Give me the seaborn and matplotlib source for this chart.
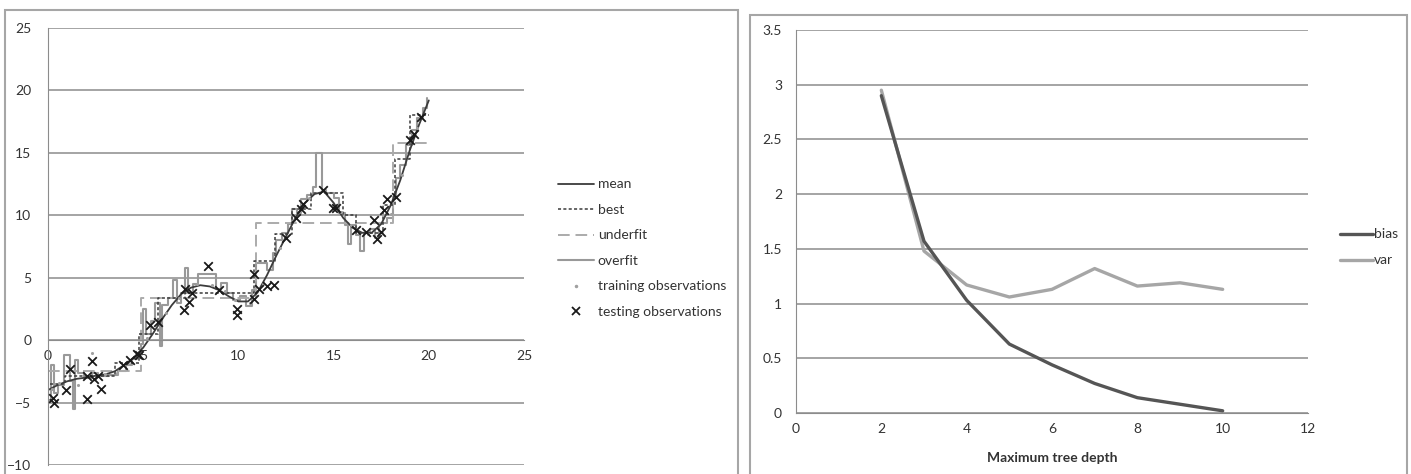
import matplotlib
matplotlib.use("Agg")
import matplotlib.pyplot as plt
from matplotlib.patches import Rectangle
from matplotlib.lines import Line2D
import seaborn as sns

sns.set_style("white")
plt.rcParams["font.family"] = ["Lato", "DejaVu Sans"]

# ---- left panel data ----
mean_x = [0, 0.5, 1, 1.5, 2, 2.5, 3, 3.5, 4, 4.5, 5, 5.5, 6, 6.5, 7, 7.5, 8, 8.5, 9, 9.5,
          10, 10.5, 11, 11.5, 12, 12.5, 13, 13.5, 14, 14.5, 15, 15.5, 16, 16.5, 17, 17.5,
          18, 18.5, 19, 19.5, 20]
mean_y = [-4.0, -3.6, -3.3, -3.1, -3.0, -2.85, -2.75, -2.5, -2.0, -1.4, -0.6, 0.5, 1.7, 2.8,
          3.7, 4.2, 4.4, 4.3, 4.0, 3.5, 3.1, 3.1, 3.8, 5.2, 6.8, 8.3, 9.8, 11.0, 11.7, 11.9,
          11.0, 9.8, 9.0, 8.6, 8.6, 9.3, 10.8, 12.8, 15.2, 17.3, 19.2]

best_x = [0.1, 0.9, 3.5, 4.8, 5.8, 7.2, 10.8, 11.9, 12.8, 13.8, 15.5, 16.2, 17.6, 18.2, 19.0, 20.0]
best_y = [-3.5, -2.9, -1.8, 0.5, 3.4, 3.8, 6.3, 8.5, 10.5, 11.8, 10.0, 8.6, 10.8, 14.5, 18.0, 18.0]

under_x = [0.0, 4.9, 10.9, 18.1, 20.0]
under_y = [-2.5, 3.4, 9.4, 15.8, 15.8]

over_x = [0.0, 0.15, 0.3, 0.55, 0.85, 1.15, 1.3, 1.4, 1.55, 1.9, 2.3, 2.6, 3.2, 3.7, 4.1,
          4.4, 4.7, 4.9, 5.0, 5.15, 5.4, 5.6, 5.9, 6.0, 6.3, 6.55, 6.75, 7.0, 7.2, 7.35,
          7.6, 7.9, 8.8, 9.1, 9.4, 9.7, 10.1, 10.4, 10.7, 10.9, 11.5, 11.8, 12.0, 12.3,
          12.6, 12.8, 13.1, 13.3, 13.6, 13.9, 14.1, 14.4, 14.6, 15.0, 15.3, 15.6, 15.75,
          15.9, 16.2, 16.4, 16.6, 16.9, 17.2, 17.4, 17.8, 18.1, 18.3, 18.5, 18.8, 19.1,
          19.4, 19.7, 19.9]
over_y = [-4.8, -2.0, -4.2, -3.6, -1.2, -3.3, -5.5, -1.6, -2.6, -3.0, -2.6, -2.9, -2.8,
          -2.5, -2.0, -1.5, -1.1, -0.3, 2.5, 0.5, 1.5, 3.0, -0.5, 2.8, 3.4, 4.8, 3.0, 3.8,
          5.8, 3.8, 4.5, 5.3, 4.1, 4.6, 3.8, 3.2, 3.5, 2.7, 4.0, 6.2, 5.6, 7.0, 8.0, 8.6,
          9.3, 10.5, 10.2, 11.3, 11.6, 12.3, 15.0, 12.0, 11.8, 11.4, 10.2, 9.2, 7.7, 9.2,
          8.4, 7.1, 8.6, 8.9, 8.2, 9.4, 9.8, 11.5, 13.0, 14.0, 15.6, 16.8, 17.8, 18.6, 19.4]

train_x = [0.2, 0.6, 1.6, 2.3, 3.0, 3.6, 4.2, 5.2, 6.2, 6.9, 7.8, 8.6, 9.3, 9.8, 10.6,
           11.3, 12.2, 12.9, 13.7, 15.4, 15.9, 16.8, 18.0, 18.6, 19.4]
train_y = [-3.9, -3.4, -3.6, -1.0, -2.7, -2.6, -1.9, 0.2, 2.2, 3.4, 4.5, 4.4, 3.9, 3.2, 3.0,
           4.5, 7.4, 9.6, 11.4, 10.3, 9.2, 8.5, 10.1, 13.2, 17.0]

test_x = [0.26, 0.3, 0.97, 1.15, 2.06, 2.05, 2.3, 2.42, 2.6, 2.76, 3.95, 4.3, 4.7, 4.8,
          5.35, 5.8, 7.15, 7.4, 7.55, 7.2, 8.4, 9.0, 9.95, 9.95, 10.8, 10.8, 11.1, 11.5,
          11.85, 12.5, 13.0, 13.3, 13.4, 14.45, 14.95, 15.1, 16.2, 16.7, 17.1, 17.3, 17.5,
          17.65, 17.8, 18.3, 19.0, 19.2, 19.6]
test_y = [-4.6, -5.0, -4.0, -2.3, -4.7, -2.9, -1.7, -3.1, -2.9, -3.9, -2.0, -1.6, -1.1,
          -1.2, 1.2, 1.45, 2.4, 3.05, 3.8, 4.1, 5.9, 4.0, 2.5, 2.0, 5.3, 3.3, 4.1, 4.3, 4.4,
          8.2, 9.8, 10.5, 10.9, 12.0, 10.6, 10.6, 8.8, 8.7, 9.6, 8.1, 8.7, 10.4, 11.3, 11.5,
          16.0, 16.5, 17.9]

# ---- right panel data ----
depth = [2, 3, 4, 5, 6, 7, 8, 9, 10]
bias = [2.9, 1.57, 1.03, 0.63, 0.44, 0.27, 0.14, 0.08, 0.02]
var = [2.95, 1.48, 1.17, 1.06, 1.13, 1.32, 1.16, 1.19, 1.13]

W, H = 1411, 474
fig = plt.figure(figsize=(W / 100, H / 100), dpi=100)
fig.patch.set_facecolor("white")

grid_c = "#8c8c8c"
fs = 10

# panel frames
fig.patches.append(Rectangle((5 / W, -0.02), 733 / W, 1.02 - 10 / H, transform=fig.transFigure,
                             fill=False, edgecolor="#a6a6a6", lw=1.5))
fig.patches.append(Rectangle((750 / W, -0.02), 657 / W, 1.02 - 15 / H, transform=fig.transFigure,
                             fill=False, edgecolor="#a6a6a6", lw=1.5))

# ---------------- left chart ----------------
ax1 = fig.add_axes([48 / W, 1 - 465 / H, 476 / W, 437 / H])
ax1.set_xlim(0, 25)
ax1.set_ylim(-10, 25)
ax1.set_yticks(range(-10, 26, 5))
ax1.set_xticks(range(0, 26, 5))
ax1.grid(axis="y", color=grid_c, lw=1.1)
ax1.set_axisbelow(True)
for s in ["top", "right"]:
    ax1.spines[s].set_visible(False)
ax1.spines["left"].set_color(grid_c)
ax1.spines["bottom"].set_color(grid_c)
ax1.spines["bottom"].set_position(("data", 0))
ax1.tick_params(axis="both", colors=grid_c, labelcolor="#333333", labelsize=fs,
                length=4, width=1, direction="out")
ax1.tick_params(axis="y", pad=8)
ax1.tick_params(axis="x", pad=3)

sns.lineplot(x=over_x, y=over_y, ax=ax1, color="#999999", lw=1.5, drawstyle="steps-post",
             estimator=None, sort=False)
sns.lineplot(x=under_x, y=under_y, ax=ax1, color="#ababab", lw=1.4, drawstyle="steps-post",
             estimator=None, sort=False, dashes=False, linestyle=(0, (6, 3)))
sns.lineplot(x=best_x, y=best_y, ax=ax1, color="#3a3a3a", lw=1.1, drawstyle="steps-post",
             estimator=None, sort=False, linestyle=(0, (2, 1.5)))
sns.lineplot(x=mean_x, y=mean_y, ax=ax1, color="#3c3c3c", lw=1.3, estimator=None, sort=False)
sns.scatterplot(x=train_x, y=train_y, ax=ax1, color="#a0a0a0", s=5, linewidth=0, zorder=4)
sns.scatterplot(x=test_x, y=test_y, ax=ax1, color="#1a1a1a", marker="x", s=38, linewidth=1.3,
                zorder=5)
ax1.set_xlabel("")
ax1.set_ylabel("")

handles1 = [
    Line2D([], [], color="#3c3c3c", lw=1.3),
    Line2D([], [], color="#3a3a3a", lw=1.1, linestyle=(0, (2, 1.5))),
    Line2D([], [], color="#ababab", lw=1.4, linestyle=(0, (6, 3))),
    Line2D([], [], color="#999999", lw=1.5),
    Line2D([], [], color="#a0a0a0", marker=".", markersize=3, lw=0),
    Line2D([], [], color="#1a1a1a", marker="x", markersize=6, mew=1.3, lw=0),
]
labels1 = ["mean", "best", "underfit", "overfit", "training observations", "testing observations"]
fig.legend(handles1, labels1, loc="upper left", bbox_to_anchor=(545 / W, 1 - 166 / H),
           frameon=False, fontsize=fs, handlelength=2.6, handletextpad=0.3,
           labelspacing=0.97, labelcolor="#333333")

# ---------------- right chart ----------------
ax2 = fig.add_axes([796 / W, 1 - 413 / H, 512 / W, 383 / H])
sns.lineplot(x=depth, y=var, ax=ax2, color="#a6a6a6", lw=2.4, label="var")
sns.lineplot(x=depth, y=bias, ax=ax2, color="#555555", lw=2.4, label="bias")
ax2.set_xlim(0, 12)
ax2.set_ylim(0, 3.5)
ax2.set_xticks(range(0, 13, 2))
ax2.set_yticks([0, 0.5, 1, 1.5, 2, 2.5, 3, 3.5])
ax2.set_yticklabels(["0", "0.5", "1", "1.5", "2", "2.5", "3", "3.5"])
ax2.grid(axis="y", color=grid_c, lw=1.1)
ax2.set_axisbelow(True)
for s in ["top", "right"]:
    ax2.spines[s].set_visible(False)
ax2.spines["left"].set_color(grid_c)
ax2.spines["bottom"].set_color(grid_c)
ax2.tick_params(axis="both", colors=grid_c, labelcolor="#333333", labelsize=fs,
                length=4, width=1, direction="out")
ax2.tick_params(axis="y", pad=6)
ax2.set_ylabel("")
ax2.set_xlabel("Maximum tree depth", fontsize=fs, fontweight="bold", color="#333333", labelpad=12)

h, l = ax2.get_legend_handles_labels()
ax2.legend([h[1], h[0]], [l[1], l[0]], loc="upper left", bbox_to_anchor=(1327 / W, 1 - 216 / H),
           bbox_transform=fig.transFigure, frameon=False, fontsize=fs, handlelength=2.4,
           handletextpad=0.1, labelspacing=1.0, labelcolor="#333333")

fig.savefig("out.png", dpi=100, facecolor="white")
